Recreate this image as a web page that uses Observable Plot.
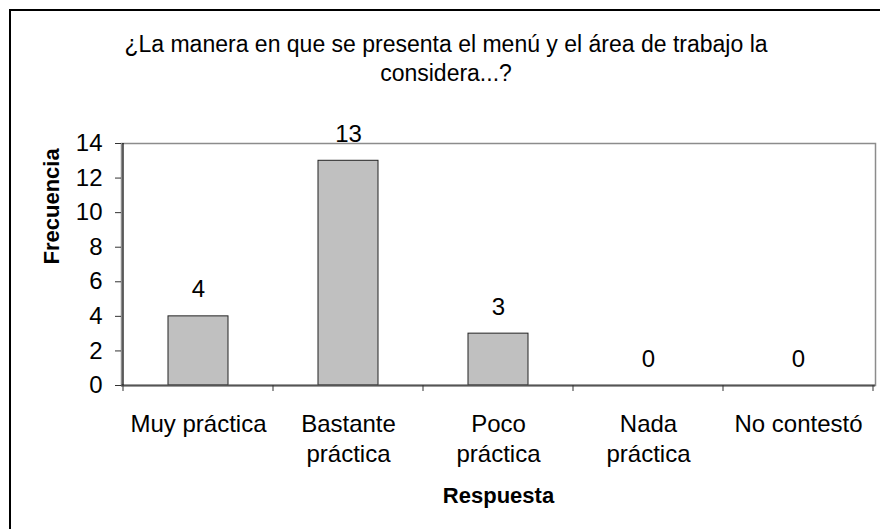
<!DOCTYPE html>
<html>
<head>
<meta charset="utf-8">
<script src="https://cdn.jsdelivr.net/npm/d3@7"></script>
<script src="https://cdn.jsdelivr.net/npm/@observablehq/plot@0.6"></script>
<style>
  body { margin: 0; background: #fff; }
  #chart { position: relative; width: 880px; height: 529px; overflow: hidden; font-family: "Liberation Sans", Arial, sans-serif; }
  #chart .border { position: absolute; left: 9px; top: 9px; width: 1000px; height: 1000px; border-left: 2px solid #000; border-top: 2px solid #000; box-sizing: border-box; }
  #chart .title { position: absolute; left: 0; top: 30px; width: 892px; text-align: center; font-size: 23px; line-height: 29px; color: #000; }
  #chart svg { position: absolute; left: 0; top: 0; }
</style>
</head>
<body>
<div id="chart"><div class="border"></div></div>
<script>
// Survey question and answers
const titleLines = ["¿La manera en que se presenta el menú y el área de trabajo la", "considera...?"];
const categories = ["Muy práctica", "Bastante práctica", "Poco práctica", "Nada práctica", "No contestó"];
const categoryLabels = ["Muy práctica", "Bastante\npráctica", "Poco\npráctica", "Nada\npráctica", "No contestó"];
const frecuencia = [4, 13, 3, 0, 0];
const yTicks = [0, 2, 4, 6, 8, 10, 12, 14];
const xTitle = "Respuesta";
const yTitle = "Frecuencia";

const data = categories.map((c, i) => ({respuesta: c, frecuencia: frecuencia[i]}));

// Left axis line and the small ticks between categories
function axisLines(index, scales) {
  const {x, y} = scales;
  const dom = x.domain();
  const bw = x.bandwidth();
  const step = x.step();
  const half = (step - bw) / 2;
  const edges = dom.map(d => x(d) - half).concat([x(dom[dom.length - 1]) + bw + half]);
  const g = d3.create("svg:g").attr("stroke", "#000").attr("fill", "none");
  g.append("line")
    .attr("x1", edges[0]).attr("x2", edges[0])
    .attr("y1", y(0)).attr("y2", y(yTicks[yTicks.length - 1]))
    .attr("stroke-width", 1.2);
  g.selectAll(null).data(edges).join("line")
    .attr("x1", d => d).attr("x2", d => d)
    .attr("y1", y(0)).attr("y2", y(0) + 6)
    .attr("stroke", "#333");
  return g.node();
}

const chart = Plot.plot({
  width: 880,
  height: 529,
  marginLeft: 121,
  marginRight: 5,
  marginTop: 143,
  marginBottom: 144,
  style: {fontFamily: "'Liberation Sans', Arial, sans-serif", fontSize: "24px", color: "#000", background: "transparent", overflow: "visible"},
  x: {domain: categories, paddingInner: 0.6, paddingOuter: 0.3, label: null},
  y: {domain: [0, 14], label: null},
  marks: [
    Plot.frame({stroke: "#8c8c8c", strokeWidth: 1.5}),
    Plot.barY(data, {x: "respuesta", y: "frecuencia", fill: "#c0c0c0", stroke: "#222", strokeWidth: 1}),
    Plot.ruleY([0], {stroke: "#555", strokeWidth: 2}),
    axisLines,
    Plot.axisY({ticks: yTicks, tickSize: 6, tickPadding: 13, fontSize: 24, label: null, stroke: "#333"}),
    Plot.axisX({tickSize: 0, tickPadding: 25, fontSize: 24, lineHeight: 1.25, label: null,
      tickFormat: d => categoryLabels[categories.indexOf(d)]}),
    Plot.text(data, {x: "respuesta", y: "frecuencia", text: d => String(d.frecuencia),
      lineAnchor: "bottom", dy: -19, fontSize: 24, fill: "#000"}),
    Plot.text([xTitle], {frameAnchor: "bottom", lineAnchor: "bottom", dy: 117, fontSize: 22, fontWeight: "bold", fill: "#000"}),
    Plot.text([yTitle], {frameAnchor: "left", rotate: -90, dx: -70, fontSize: 22, fontWeight: "bold", fill: "#000"})
  ]
});

const root = document.getElementById("chart");
root.appendChild(chart);
const title = document.createElement("div");
title.className = "title";
title.innerHTML = titleLines.join("<br>");
root.appendChild(title);
</script>
</body>
</html>
